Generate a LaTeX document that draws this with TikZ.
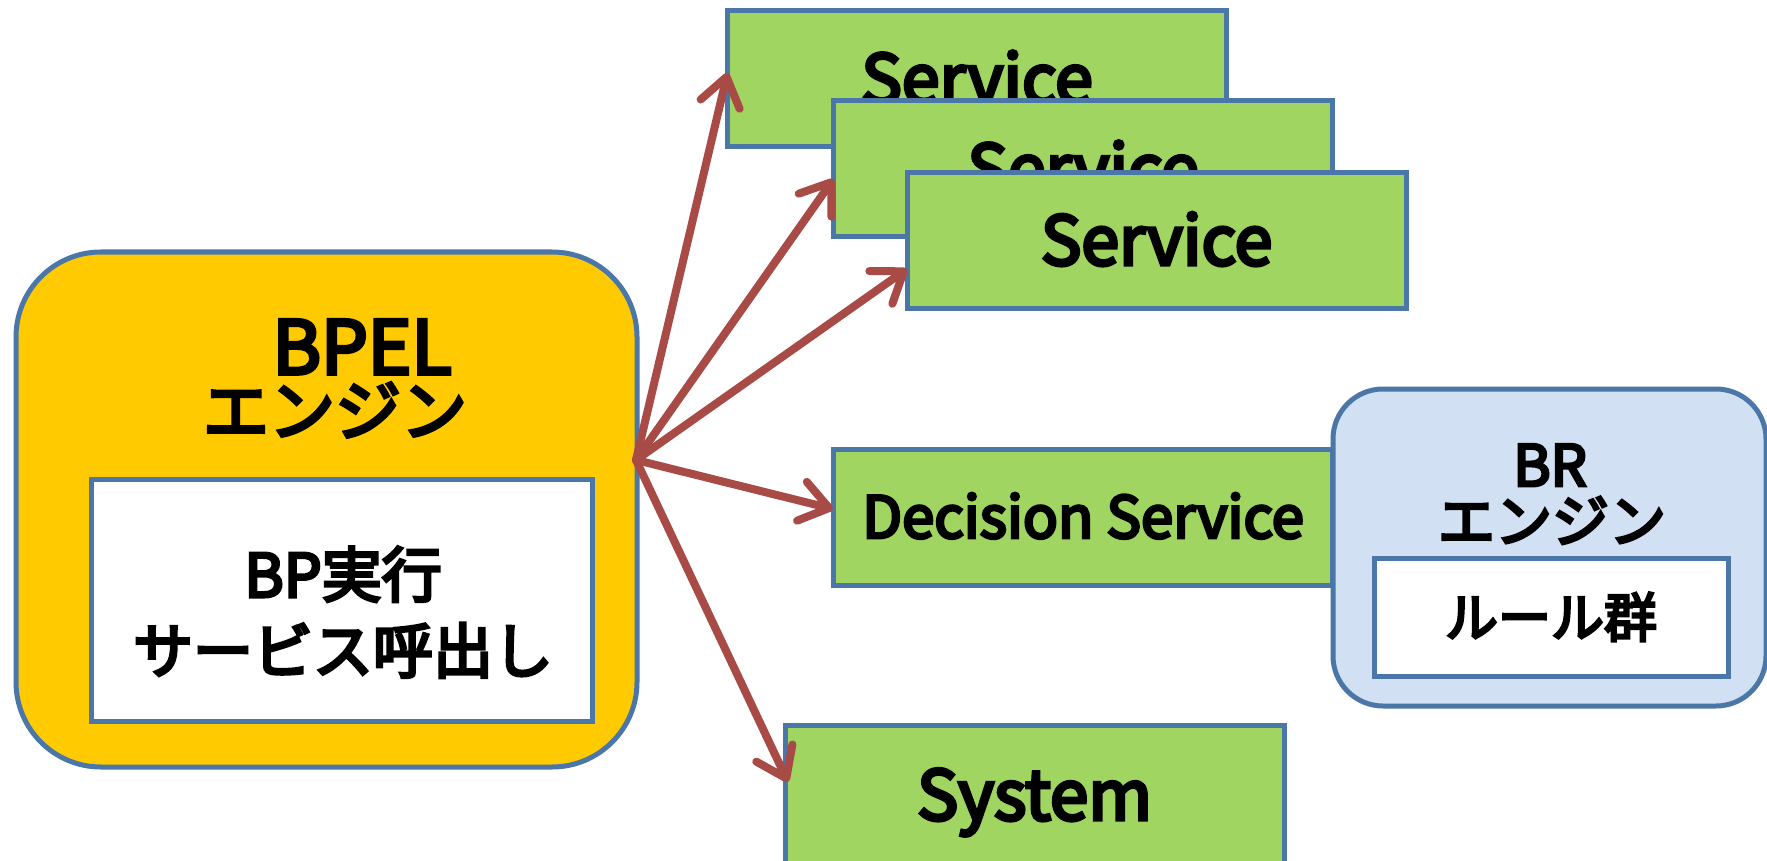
\documentclass[tikz,border=0pt]{standalone}
\usepackage{fontspec}
\newfontfamily\jp{Noto Sans CJK JP}[FakeBold=5]
\usetikzlibrary{arrows.meta}
\definecolor{edgeblue}{HTML}{4A76A8}
\definecolor{engorange}{HTML}{FFCA00}
\definecolor{svcgreen}{HTML}{A0D562}
\definecolor{brblue}{HTML}{D1E1F3}
\definecolor{arrowred}{HTML}{A84B46}
\begin{document}
\begin{tikzpicture}[x=1pt,y=-1pt,
  box/.style={draw=edgeblue, line width=5pt, inner sep=0pt, outer sep=0pt},
  svc/.style={box, fill=svcgreen, minimum width=499pt, minimum height=136pt},
  txt/.style={inner sep=0pt, anchor=base, font=\jp\fontsize{#1}{#1}\selectfont},
  txt/.default=68,
  call/.style={draw=arrowred, line width=8pt, line cap=round,
    -{Straight Barb[length=28pt,width=40pt,round]}}]
\useasboundingbox (0,0) rectangle (1767,861);

% BPEL engine
\node[box, fill=engorange, rounded corners=85pt, minimum width=621pt, minimum height=515pt] (bpel) at (326.5,509.5) {};
\node[txt=74] (bpelname) at (362,374) {BPEL};
\node[txt=66] (bpeleng) at (335,435) {エンジン};
\node[box, fill=white, minimum width=501pt, minimum height=242pt] (exec) at (341.5,600) {};
\node[txt=60] (exec1) at (343,597) {BP実行};
\node[txt=60] (exec2) at (343,673) {サービス呼出し};

% stacked services
\node[svc] (s1) at (977,78.5) {};
\node[txt] (s1t) at (977,103.5) {Service};
\node[svc] (s2) at (1083,169) {};
\node[txt] (s2t) at (1083,193.5) {Service};
\node[svc] (s3) at (1156.5,240.5) {};
\node[txt] (s3t) at (1156.5,265) {Service};

% decision service and rule engine
\node[svc] (dec) at (1082.5,517.5) {};
\node[txt=58] (dect) at (1083,538) {Decision Service};
\node[box, fill=brblue, rounded corners=50pt, minimum width=433pt, minimum height=317pt] (br) at (1549.5,547.5) {};
\node[txt=57] (brname) at (1550,486) {BR};
\node[txt=57] (breng) at (1552,542) {エンジン};
\node[box, fill=white, minimum width=354pt, minimum height=118pt] (rules) at (1551,617) {};
\node[txt=53] (rulest) at (1551,637) {ルール群};

% backend system
\node[svc, minimum height=145pt] (sys) at (1034.5,797.5) {};
\node[txt=69] (syst) at (1034.5,820) {System};

% invocations
\coordinate (hub) at (636,460);
\draw[call] (hub) -- ([yshift=5.5pt]s1.west);
\draw[call] (hub) -- ([yshift=-10pt]s2.west);
\draw[call] (hub) -- ([yshift=-28.5pt]s3.west);
\draw[call] (hub) -- ([yshift=8.5pt]dec.west);
\draw[call] (hub) -- ([xshift=3pt,yshift=15.5pt]sys.west);
\end{tikzpicture}
\end{document}
